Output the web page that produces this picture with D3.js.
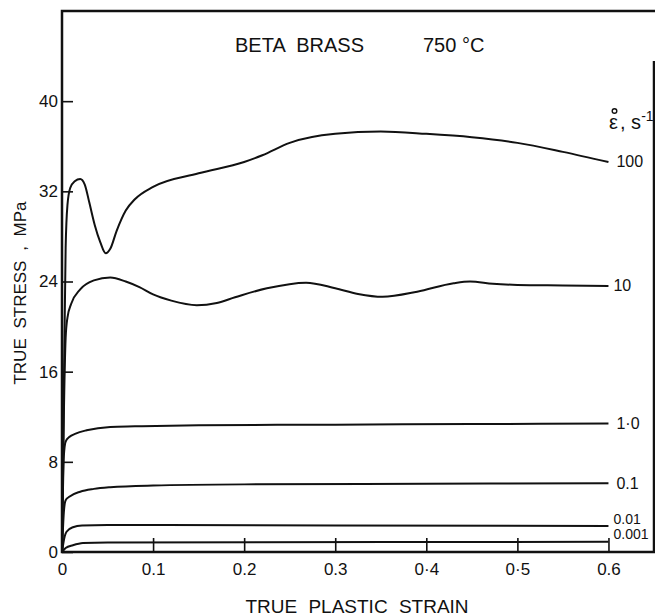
<!DOCTYPE html>
<html lang="en">
<head>
<meta charset="UTF-8">
<title>Beta brass 750 C</title>
<script src="https://d3js.org/d3.v7.min.js"></script>
<style>
  body { margin: 0; background: #fff; }
  svg text { font-family: "Liberation Sans", Arial, sans-serif; fill: #111; }
</style>
</head>
<body>
<div id="chart"></div>
<script>
// strain rates and their flow curves, [true plastic strain, true stress MPa]
const rates = ["100", "10", "1·0", "0.1", "0.01", "0.001"];

const curve100 = [[0,0],[0.002,14],[0.004,27],[0.006,30.8],[0.009,32.3],[0.014,32.9],[0.02,33.1],
  [0.025,32.6],[0.03,31],[0.036,29],[0.042,27.5],[0.048,26.5],[0.053,26.9],[0.06,28.5],[0.07,30.3],
  [0.08,31.3],[0.1,32.4],[0.15,33.6],[0.2,34.6],[0.22,35.2],[0.25,36.3],[0.3,37.1],[0.35,37.3],
  [0.4,37.1],[0.45,36.8],[0.5,36.3],[0.55,35.5],[0.6,34.6]];
const curve10 = [[0,0],[0.002,12],[0.004,19],[0.006,20.8],[0.01,22],[0.02,23.3],[0.035,24.1],
  [0.053,24.35],[0.07,24.0],[0.085,23.5],[0.1,22.85],[0.12,22.3],[0.148,21.9],[0.17,22.1],[0.19,22.6],
  [0.225,23.4],[0.268,23.9],[0.3,23.4],[0.325,22.9],[0.352,22.65],[0.39,23.1],[0.43,23.85],
  [0.448,24.0],[0.473,23.8],[0.5,23.7],[0.55,23.65],[0.6,23.6]];
const curve1 = [[0,0],[0.002,8.5],[0.004,9.8],[0.008,10.2],[0.015,10.5],[0.027,10.8],[0.053,11.1],
  [0.08,11.15],[0.15,11.25],[0.3,11.3],[0.45,11.35],[0.6,11.4]];
const curve01 = [[0,0],[0.002,3.5],[0.004,4.6],[0.008,4.9],[0.02,5.35],[0.035,5.6],[0.053,5.75],
  [0.1,5.9],[0.2,6.0],[0.4,6.05],[0.6,6.1]];
const curve001 = [[0,0],[0.003,1.4],[0.005,1.8],[0.012,2.2],[0.022,2.35],[0.05,2.4],[0.3,2.35],[0.6,2.3]];
const curve0001 = [[0,0],[0.004,0.35],[0.012,0.6],[0.023,0.8],[0.05,0.85],[0.6,0.9]];

const curves = [curve100, curve10, curve1, curve01, curve001, curve0001];

const xTicks = [0, 0.1, 0.2, 0.3, 0.4, 0.5, 0.6];
const xTickLabels = ["0", "0.1", "0.2", "0.3", "0·4", "0·5", "0.6"];
const yTicks = [0, 8, 16, 24, 32, 40];

// layout
const width = 655, height = 616;
const m = { left: 62, top: 11, right: 654, bottom: 552 };

const svg = d3.select("#chart").append("svg")
  .attr("width", width)
  .attr("height", height);

const x = d3.scaleLinear().domain([0, 0.65]).range([m.left, m.right]);
const y = d3.scaleLinear().domain([0, 48]).range([m.bottom, m.top]);

// frame
svg.append("path")
  .attr("d", `M${m.right},${m.top + 50}V${m.bottom}H${m.left}V${m.top}H${width}`)
  .attr("fill", "none")
  .attr("stroke", "#111")
  .attr("stroke-width", 2.5);

// axes with inward ticks
const xAxis = svg.append("g")
  .attr("transform", `translate(0,${m.bottom})`)
  .call(d3.axisBottom(x).tickValues(xTicks).tickSize(-14).tickPadding(8)
    .tickFormat((d, i) => xTickLabels[i]));
const yAxis = svg.append("g")
  .attr("transform", `translate(${m.left},0)`)
  .call(d3.axisLeft(y).tickValues(yTicks).tickSize(-11).tickPadding(5));

[xAxis, yAxis].forEach(g => {
  g.select(".domain").remove();
  g.selectAll(".tick line").attr("stroke", "#111").attr("stroke-width", 1.6);
  g.selectAll(".tick text").attr("font-size", 17).attr("fill", "#111");
});
xAxis.selectAll(".tick text").attr("dy", "0.9em");
yAxis.selectAll(".tick text").attr("dx", "1px");

// curves
const line = d3.line()
  .x(d => x(d[0]))
  .y(d => y(d[1]))
  .curve(d3.curveMonotoneX);

svg.selectAll(".flow")
  .data(curves)
  .join("path")
  .attr("class", "flow")
  .attr("d", line)
  .attr("fill", "none")
  .attr("stroke", "#111")
  .attr("stroke-width", 2);

// rate labels at curve ends
const labelShift = [0, 0, 0, 0, -7, -8];
svg.selectAll(".rate")
  .data(rates)
  .join("text")
  .attr("class", "rate")
  .attr("x", (d, i) => x(0.6) + (i === 1 || i >= 4 ? 5 : 8))
  .attr("y", (d, i) => y(curves[i][curves[i].length - 1][1]) + labelShift[i])
  .attr("dy", "0.34em")
  .attr("font-size", (d, i) => i >= 4 ? 14 : 16)
  .text(d => d);

// strain-rate heading: epsilon with a ring above, s^-1
svg.append("text")
  .attr("x", 609).attr("y", 129)
  .attr("font-size", 20)
  .text("ε");
svg.append("circle")
  .attr("cx", 614.5).attr("cy", 111)
  .attr("r", 2.3)
  .attr("fill", "none")
  .attr("stroke", "#111")
  .attr("stroke-width", 1.4);
const rateTitle = svg.append("text")
  .attr("x", 620).attr("y", 129)
  .attr("font-size", 20)
  .text(", s");
rateTitle.append("tspan")
  .attr("font-size", 14)
  .attr("dy", -8)
  .text("-1");

// title
svg.append("text")
  .attr("x", 235).attr("y", 52)
  .attr("font-size", 20)
  .attr("word-spacing", 6)
  .text("BETA BRASS");
svg.append("text")
  .attr("x", 423).attr("y", 52)
  .attr("font-size", 20)
  .text("750 °C");

// axis titles
svg.append("text")
  .attr("x", 357).attr("y", 613)
  .attr("text-anchor", "middle")
  .attr("font-size", 19)
  .attr("word-spacing", 6)
  .text("TRUE PLASTIC STRAIN");
svg.append("text")
  .attr("transform", "translate(26,293) rotate(-90)")
  .attr("text-anchor", "middle")
  .attr("font-size", 17)
  .attr("word-spacing", 5)
  .text("TRUE STRESS , MPa");
</script>
</body>
</html>
